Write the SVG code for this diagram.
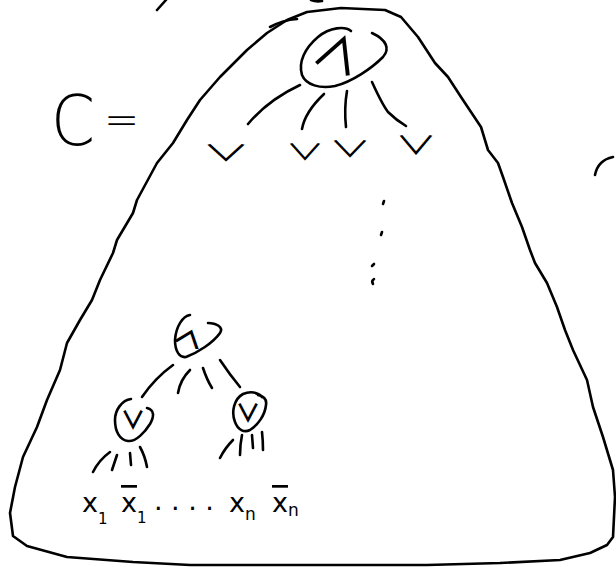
<svg xmlns="http://www.w3.org/2000/svg" width="616" height="567" viewBox="0 0 616 567">
<style>
.s{fill:none;stroke:#000;stroke-width:2.6;stroke-linecap:round;stroke-linejoin:round}
.t{font-family:"DejaVu Sans","Liberation Sans",sans-serif;fill:#000}
.lt{font-weight:200}
.g{font-family:"Noto Sans CJK JP","Noto Sans CJK SC",sans-serif;font-weight:500;fill:#000;text-anchor:middle}
.gm{font-weight:400}
.gb{font-weight:700}
</style>
<rect width="616" height="567" fill="#fff"/>
<g id="outline">
<path class="s" d="M307,12 L341,8 L385,10 L401,17 L418,37 L435,63 L448,77 L461,97 L481,127 L488,150 L498,163 L503,177 L512,203 L522,227 L530,250 L535,263 L547,283 L557,307 L565,330 L573,350 L587,380 L593,407 L603,437 L613,470 L615,497 L613,537 L607,545 L590,553 L560,560 L500,563 L427,565 L300,565 L190,565 L133,562 L67,557 L27,546 L13,536 L10,513 L15,487 L23,457 L37,427 L47,400 L60,370 L67,343 L80,320 L92,300 L100,280 L113,253 L117,240 L133,213 L137,200 L157,163 L173,143 L187,120 L200,100 L220,77 L247,50 L267,33 L287,20 Z"/>
<path class="s" d="M270,27 Q283,20 297,19"/>
<path class="s" d="M157,10 L166,0"/>
<path class="s" d="M311,0 Q316,2 322,1"/>
<path class="s" d="M595,175 Q598,160 613,157"/>
</g>
<g id="label-c">
<text class="t lt" transform="translate(51,145) scale(0.9,1)" font-size="70">C</text>
<text class="t lt" x="104" y="134" font-size="42">=</text>
</g>
<g id="node-and-top">
<path class="s" d="M351,31 C345,26 330,27 318,37 C305,48 298,62 302,75 C306,85 320,89 335,86 C352,82 372,68 383,57 C390,49 387,40 372,33"/>
<text class="g" transform="translate(338,54) rotate(21)" y="17" font-size="48">∧</text>
</g>
<g id="or-1"><text class="g gm" transform="translate(226,153) scale(1.6,0.75)" y="11" font-size="30">∨</text></g>
<g id="or-2"><text class="g gm" transform="translate(305,152) scale(1.3,0.75)" y="11" font-size="30">∨</text></g>
<g id="or-3"><text class="g gm" transform="translate(350,149) scale(1.4,0.75)" y="11" font-size="30">∨</text></g>
<g id="or-4"><text class="g gm" transform="translate(416,145) scale(1.4,0.85)" y="11" font-size="30">∨</text></g>
<g id="ellipsis">
<path class="s" d="M384,201 L383,204"/>
<path class="s" d="M382,232 L381,235"/>
<path class="s" d="M374,264 L372,266"/>
<path class="s" d="M374,279 Q371,281 373,284"/>
</g>
<g id="and-bottom">
<path class="s" d="M190,315 C183,316 176,326 175,340 C175,352 180,358 186,357 C197,353 213,343 220,333 C224,327 216,323 208,323"/>
<text class="g gb" transform="translate(189,338) rotate(20) scale(1,0.65)" y="12" font-size="33">∧</text>
</g>
<g id="or-left">
<path class="s" d="M131,399 C122,400 115,410 115,420 C115,432 120,440 128,441 C136,442 145,432 150,424 C154,417 155,410 147,408"/>
<text class="g gb" transform="translate(133,420)" y="9" font-size="25">∨</text>
</g>
<g id="or-right">
<path class="s" d="M262,397 C258,392 250,391 243,394 C234,399 231,412 235,422 C238,430 244,433 250,430 C258,425 265,415 266,405 C267,399 263,396 258,395"/>
<text class="g gb" transform="translate(248,413)" y="9" font-size="25">∨</text>
</g>
<g id="connectors">
<path class="s" d="M248,124 Q268,100 300,85"/>
<path class="s" d="M324,94 Q305,112 302,129"/>
<path class="s" d="M347,91 Q344,108 346,127"/>
<path class="s" d="M372,82 Q382,104 388,112 Q396,120 406,126"/>
<path class="s" d="M173,365 Q155,378 142,397"/>
<path class="s" d="M190,370 Q180,380 178,393"/>
<path class="s" d="M203,368 Q207,380 212,388"/>
<path class="s" d="M220,360 Q230,375 240,387"/>
<path class="s" d="M110,452 Q99,460 93,472"/>
<path class="s" d="M117,455 L112,470"/>
<path class="s" d="M130,453 L131,465"/>
<path class="s" d="M140,447 Q145,456 147,467"/>
<path class="s" d="M233,440 Q225,448 220,458"/>
<path class="s" d="M242,435 Q240,445 240,455"/>
<path class="s" d="M252,435 L253,448"/>
<path class="s" d="M262,432 Q263,441 263,450"/>
</g>
<g id="literals">
<text class="t" x="82" y="512" font-size="27">x<tspan font-size="15" dy="12">1</tspan></text>
<text class="t" x="121" y="512" font-size="27"><tspan text-decoration="overline">x</tspan><tspan font-size="15" dy="11">1</tspan></text>
<text class="t" x="154" y="510" font-size="27" letter-spacing="8.5">....</text>
<text class="t" x="229" y="512" font-size="27">x<tspan font-size="17" dy="8">n</tspan></text>
<text class="t" x="272" y="512" font-size="27"><tspan text-decoration="overline">x</tspan><tspan font-size="17" dy="4">n</tspan></text>
</g>
</svg>
